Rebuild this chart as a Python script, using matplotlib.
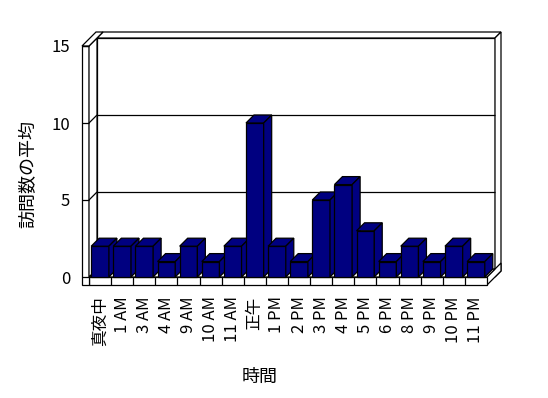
import matplotlib.pyplot as plt
from matplotlib.patches import Polygon

plt.rcParams['font.family'] = ['Noto Sans CJK JP', 'DejaVu Sans']

hours = ['真夜中', '1 AM', '3 AM', '4 AM', '9 AM', '10 AM', '11 AM', '正午',
         '1 PM', '2 PM', '3 PM', '4 PM', '5 PM', '6 PM', '8 PM', '9 PM',
         '10 PM', '11 PM']
avg_visits = [2, 2, 2, 1, 2, 1, 2, 10, 2, 1, 5, 6, 3, 1, 2, 1, 2, 1]
y_ticks = [0, 5, 10, 15]
y_label = '訪問数の平均'
x_label = '時間'

W, H = 548, 398
fig = plt.figure(figsize=(W / 100, H / 100), dpi=100)

# front plane of the 3-D box (pixels)
left, right, top, bottom = 89, 487, 46, 277
ax = fig.add_axes([left / W, 1 - bottom / H, (right - left) / W, (bottom - top) / H])
n = len(hours)
ymax = y_ticks[-1]
x0, x1 = -0.5, n - 0.5
ax.set_xlim(x0, x1)
ax.set_ylim(0, ymax)

# data units per pixel
px = n / (right - left)
py = ymax / (bottom - top)
dx, dy = 8 * px, 8 * py      # depth of plot box
tx, ty = 6 * px, 6 * py      # back wall thickness
wx = 7 * px                  # left wall thickness
fy = 8 * py                  # floor thickness
LW = 0.9


def poly(pts, fc='white', z=1):
    p = Polygon(pts, closed=True, facecolor=fc, edgecolor='black',
                linewidth=LW, clip_on=False, zorder=z, joinstyle='miter')
    ax.add_patch(p)


def line(xs, ys, z=1.5):
    ax.plot(xs, ys, color='black', lw=LW, clip_on=False, zorder=z,
            solid_capstyle='butt')


# back wall
poly([(x0 + dx, dy), (x1 + dx, dy), (x1 + dx, ymax + dy), (x0 + dx, ymax + dy)])
poly([(x0 + dx, ymax + dy), (x1 + dx, ymax + dy),
      (x1 + dx + tx, ymax + dy + ty), (x0 + dx + tx, ymax + dy + ty)])
poly([(x1 + dx, ymax + dy), (x1 + dx + tx, ymax + dy + ty),
      (x1 + dx + tx, -fy + dy + ty), (x1 + dx, -fy + dy)])

# floor
poly([(x0, 0), (x1, 0), (x1 + dx, dy), (x0 + dx, dy)], z=1.2)
poly([(x0, -fy), (x1, -fy), (x1, 0), (x0, 0)], z=1.2)
poly([(x1, 0), (x1, -fy), (x1 + dx + tx, -fy + dy + ty), (x1 + dx + tx, dy + ty)], z=1.1)
for i in range(1, n):
    line([i - 0.5, i - 0.5], [-fy, 0], z=1.3)

# left wall
poly([(x0 - wx, -fy), (x0, -fy), (x0, ymax), (x0 - wx, ymax)], z=1.4)
poly([(x0, 0), (x0, ymax), (x0 + dx, ymax + dy), (x0 + dx, dy)], z=1.4)
poly([(x0 - wx, ymax), (x0, ymax), (x0 + dx + tx, ymax + dy + ty),
      (x0 - wx + dx + tx, ymax + dy + ty)], z=1.4)

# gridlines
for v in y_ticks[1:-1]:
    line([x0 + dx, x1 + dx], [v + dy, v + dy])
    line([x0, x0 + dx], [v, v + dy])

# bars
w = 0.8
bars = ax.bar(range(n), avg_visits, width=w, color='#000080',
              edgecolor='black', linewidth=LW)
for i, (rect, v) in enumerate(zip(bars, avg_visits)):
    z = 3 + i * 0.01
    rect.set_zorder(z)
    rect.set_clip_on(False)
    xl, xr = i - w / 2, i + w / 2
    poly([(xl, v), (xr, v), (xr + dx, v + dy), (xl + dx, v + dy)], fc='#000080', z=z + 0.001)
    poly([(xr, 0), (xr, v), (xr + dx, v + dy), (xr + dx, dy)], fc='#000080', z=z + 0.002)

for s in ax.spines.values():
    s.set_visible(False)
ax.patch.set_visible(False)

ax.set_xticks(range(n))
ax.set_xticklabels(hours, rotation=90, fontsize=12)
ax.tick_params(axis='x', length=0, pad=14)
ax.set_yticks(y_ticks)
ax.set_yticklabels([str(t) for t in y_ticks], fontsize=12)
ax.tick_params(axis='y', length=5, width=LW, pad=8.5, direction='out')

fig.text(28 / W, 1 - 174 / H, y_label, rotation=90, ha='center', va='center', fontsize=13)
fig.text(260 / W, 1 - 377 / H, x_label, ha='center', va='center', fontsize=13)

fig.savefig('out.png', dpi=100)
